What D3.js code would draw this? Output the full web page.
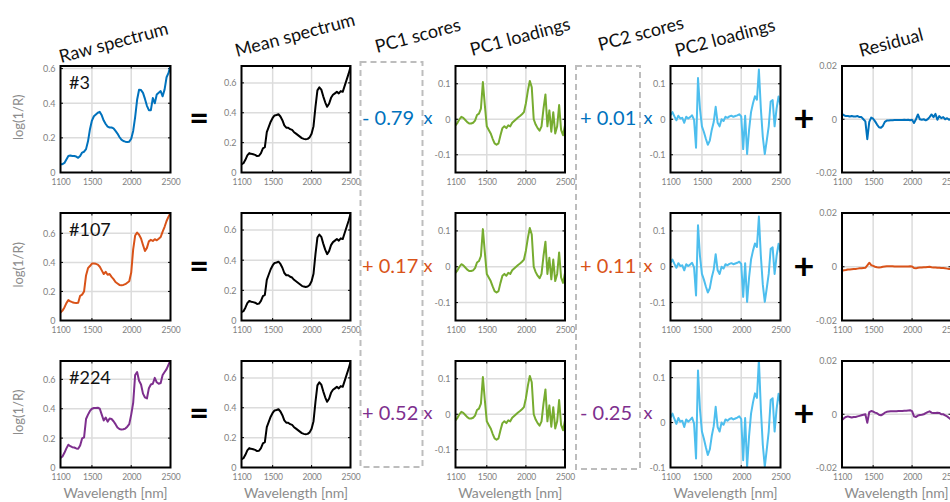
<!DOCTYPE html>
<html><head><meta charset="utf-8">
<script src="https://cdn.jsdelivr.net/npm/d3@7"></script>
<style>
html,body{margin:0;padding:0;background:#fff;overflow:hidden}
svg{display:block}
text{font-family:Lato,"Open Sans",sans-serif}
</style></head>
<body><svg id="c" width="950" height="502"></svg>
<script>
// ---------- data ----------
const wl = [1100,1125,1150,1175,1200,1225,1250,1275,1300,1325,1350,1375,1400,1425,1450,1475,1500,1525,1550,1575,1600,1625,1650,1675,1700,1725,1750,1775,1800,1825,1850,1875,1900,1925,1950,1975,2000,2025,2050,2075,2100,2125,2150,2175,2200,2225,2250,2275,2300,2325,2350,2375,2400,2425,2450,2475,2500];

const raw3 = [0.048,0.048,0.055,0.075,0.095,0.098,0.095,0.095,0.092,0.085,0.095,0.115,0.12,0.135,0.18,0.25,0.30,0.325,0.335,0.345,0.35,0.33,0.30,0.28,0.265,0.26,0.26,0.255,0.24,0.225,0.205,0.19,0.182,0.178,0.176,0.178,0.195,0.24,0.32,0.42,0.478,0.476,0.46,0.425,0.385,0.36,0.36,0.43,0.40,0.45,0.46,0.47,0.44,0.48,0.55,0.575,0.62];
const raw107 = [0.055,0.068,0.09,0.12,0.14,0.132,0.126,0.122,0.12,0.122,0.17,0.178,0.2,0.31,0.36,0.375,0.392,0.392,0.39,0.385,0.37,0.345,0.32,0.335,0.315,0.32,0.30,0.285,0.265,0.255,0.245,0.243,0.245,0.25,0.26,0.27,0.33,0.49,0.585,0.605,0.59,0.565,0.52,0.478,0.50,0.545,0.555,0.548,0.56,0.552,0.563,0.575,0.612,0.645,0.685,0.715,0.74];
const raw224 = [0.065,0.075,0.10,0.13,0.155,0.145,0.138,0.136,0.13,0.128,0.15,0.198,0.205,0.33,0.36,0.385,0.40,0.405,0.405,0.407,0.40,0.36,0.32,0.34,0.312,0.333,0.33,0.315,0.295,0.272,0.262,0.258,0.26,0.265,0.278,0.295,0.36,0.44,0.63,0.65,0.59,0.565,0.503,0.477,0.47,0.54,0.565,0.57,0.61,0.58,0.57,0.575,0.63,0.65,0.67,0.70,0.73];

const meanSpectrum = [0.055,0.062,0.085,0.115,0.13,0.125,0.122,0.118,0.11,0.112,0.13,0.162,0.17,0.27,0.305,0.34,0.365,0.382,0.385,0.39,0.375,0.35,0.315,0.30,0.30,0.29,0.285,0.27,0.26,0.25,0.24,0.23,0.225,0.222,0.225,0.235,0.26,0.31,0.44,0.55,0.57,0.555,0.51,0.47,0.44,0.46,0.50,0.52,0.53,0.54,0.53,0.545,0.54,0.58,0.62,0.66,0.707];

const pc1Loadings = [-0.017,-0.01,0.0,0.007,0.004,-0.002,-0.008,-0.012,-0.012,-0.01,-0.004,0.012,0.016,0.03,0.105,0.04,-0.02,-0.03,-0.04,-0.055,-0.068,-0.072,-0.068,-0.045,-0.025,-0.02,-0.025,-0.017,-0.02,-0.01,-0.005,0.0,0.005,0.009,0.014,0.02,0.045,0.08,0.108,0.09,0.0,-0.015,-0.025,-0.032,-0.02,0.03,0.07,-0.02,0.025,-0.035,0.02,-0.04,-0.02,0.04,-0.03,-0.045,-0.017];
const pc2Loadings = [0.011,0.02,0.008,-0.003,0.01,0.002,0.004,-0.01,0.007,0.002,0.006,0.011,-0.002,-0.08,0.116,0.03,-0.02,-0.036,-0.055,-0.072,-0.06,-0.03,-0.008,0.035,-0.01,-0.02,0.0,-0.005,0.007,0.004,0.008,0.01,0.007,0.009,0.011,0.014,0.008,-0.084,0.01,-0.098,-0.03,0.02,0.045,0.065,0.055,0.14,0.03,-0.05,-0.098,-0.06,-0.02,0.05,0.054,-0.02,0.03,0.064,0.04];

const res3 = [0.002,0.0015,0.0012,0.0012,0.001,0.0012,0.001,0.001,0.0012,0.0008,0.0008,0.0,-0.0008,-0.0075,-0.001,0.0006,0.0002,-0.0008,-0.002,-0.003,-0.0032,-0.0025,-0.001,-0.0005,-0.0005,-0.0004,-0.0004,-0.0003,-0.0003,-0.0003,-0.0003,-0.0003,-0.0002,-0.0003,-0.0002,-0.0004,-0.0002,-0.0014,0.0,0.0018,0.0,-0.0002,0.0,-0.0004,0.0,0.0008,0.0018,0.0008,0.002,-0.0002,0.0012,0.0004,0.0008,0.0,0.0004,-0.0002,0.0];
const res107 = [-0.0015,-0.0013,-0.0012,-0.001,-0.001,-0.0009,-0.0008,-0.0008,-0.0007,-0.0006,-0.0006,-0.0005,-0.0004,0.0005,0.0015,0.0006,0.0003,0.0,-0.0002,-0.0003,-0.0002,0.0,0.0001,0.0002,0.0002,0.0002,0.0002,0.0001,0.0001,0.0001,0.0001,0.0001,0.0001,0.0001,0.0001,0.0002,0.0001,-0.0005,-0.0006,-0.0004,-0.0003,-0.0003,-0.0002,-0.0002,-0.0001,0.0,-0.0002,-0.0003,-0.0003,-0.0004,-0.0004,-0.0005,-0.0005,-0.0006,-0.0007,-0.0008,-0.0009];
const res224 = [-0.0022,-0.0015,-0.001,-0.0008,-0.001,-0.0012,-0.001,-0.001,-0.0008,-0.0006,-0.0004,-0.0002,0.0,-0.0032,0.0008,0.0012,0.001,0.0006,0.0004,-0.0002,-0.0004,0.0,0.0006,0.0009,0.001,0.0011,0.0011,0.0011,0.0011,0.0012,0.0012,0.0012,0.0013,0.0013,0.0014,0.0015,0.0012,-0.0008,-0.001,-0.0005,-0.0003,-0.0002,0.0,0.0004,0.0008,0.0011,0.0006,0.0005,0.0005,0.0006,0.0005,0.0,0.0,-0.0004,-0.0008,-0.0014,-0.002];

const sampleLabels = ["#3", "#107", "#224"];
const pc1Scores = ["- 0.79", "+ 0.17", "+ 0.52"];
const pc2Scores = ["+ 0.01", "+ 0.11", "- 0.25"];
const titles = ["Raw spectrum", "Mean spectrum", "PC1 scores", "PC1 loadings", "PC2 scores", "PC2 loadings", "Residual"];
const xTicks = [1100, 1500, 2000, 2500];
const specTicks = [0, 0.2, 0.4, 0.6];
const loadTicks = [-0.1, 0, 0.1];
const resTicks = [-0.02, 0, 0.02];

// ---------- layout ----------
const svg = d3.select("#c");
const rowColors = ["#0072BD", "#D95319", "#7E2F8E"];
const rowsY = [[66,172.5],[213,320.5],[361,467.5]];
const colsX = {raw:[60.5,170.5], mean:[241.5,350.5], pc1:[455.5,565], pc2:[670.5,780.5], res:[842,951]};
const rawSeries = [raw3, raw107, raw224];
const resSeries = [res3, res107, res224];
const rawDomains = [[0,0.615],[0,0.74],[0,0.725]];
const pc2Domains = [[-0.15,0.15],[-0.15,0.15],[-0.1,0.137]];
let clipId = 0;

function fmt(v){ return v === 0 ? "0" : String(+v.toFixed(3)); }

function panel(xr, yr, values, yDomain, yTicks, color){
  const x = d3.scaleLinear().domain([1100,2500]).range(xr);
  const y = d3.scaleLinear().domain(yDomain).range([yr[1], yr[0]]);
  const g = svg.append("g");
  g.selectAll(".vg").data(xTicks.filter(t=>t>1100&&t<2500)).join("line")
    .attr("x1",d=>x(d)).attr("x2",d=>x(d)).attr("y1",yr[0]).attr("y2",yr[1])
    .attr("stroke","#dcdcdc").attr("stroke-width",1.5);
  g.selectAll(".hg").data(yTicks.filter(t=>t>yDomain[0]+1e-9&&t<yDomain[1]-1e-9)).join("line")
    .attr("x1",xr[0]).attr("x2",xr[1]).attr("y1",d=>y(d)).attr("y2",d=>y(d))
    .attr("stroke","#dcdcdc").attr("stroke-width",1.5);
  const xa = d3.axisBottom(x).tickValues(xTicks).tickSize(0).tickPadding(6).tickFormat(d3.format("d"));
  const gx = g.append("g").attr("transform",`translate(0,${yr[1]})`).call(xa);
  const ya = d3.axisLeft(y).tickValues(yTicks).tickSize(0).tickPadding(5).tickFormat(fmt);
  const gy = g.append("g").attr("transform",`translate(${xr[0]},0)`).call(ya);
  gx.select(".domain").remove(); gy.select(".domain").remove();
  gx.selectAll("text").attr("fill","#7f7f7f").style("font-size","8.5px").style("font-family","Lato,sans-serif").style("letter-spacing","-0.2px");
  gy.selectAll("text").attr("fill","#7f7f7f").style("font-size","9px").style("font-family","Lato,sans-serif");
  xTicks.forEach(t=>{
    g.append("line").attr("x1",x(t)).attr("x2",x(t)).attr("y1",yr[1]).attr("y2",yr[1]-2.5).attr("stroke","#000").attr("stroke-width",1);
    g.append("line").attr("x1",x(t)).attr("x2",x(t)).attr("y1",yr[0]).attr("y2",yr[0]+2.5).attr("stroke","#000").attr("stroke-width",1);
  });
  yTicks.forEach(t=>{
    g.append("line").attr("x1",xr[0]).attr("x2",xr[0]+2.5).attr("y1",y(t)).attr("y2",y(t)).attr("stroke","#000").attr("stroke-width",1);
    g.append("line").attr("x1",xr[1]).attr("x2",xr[1]-2.5).attr("y1",y(t)).attr("y2",y(t)).attr("stroke","#000").attr("stroke-width",1);
  });
  const id = "clip" + (clipId++);
  svg.append("clipPath").attr("id",id).append("rect")
    .attr("x",xr[0]).attr("y",yr[0]).attr("width",xr[1]-xr[0]).attr("height",yr[1]-yr[0]);
  const line = d3.line().x((d,i)=>x(wl[i])).y(d=>y(d));
  g.append("path").datum(values).attr("d",line).attr("fill","none")
    .attr("stroke",color).attr("stroke-width",2).attr("stroke-linejoin","round")
    .attr("clip-path",`url(#${id})`);
  g.append("rect").attr("x",xr[0]).attr("y",yr[0]).attr("width",xr[1]-xr[0]).attr("height",yr[1]-yr[0])
    .attr("fill","none").attr("stroke","#000").attr("stroke-width",2);
}

rowsY.forEach((yr,r)=>{
  panel(colsX.raw, yr, rawSeries[r], rawDomains[r], specTicks, rowColors[r]);
  panel(colsX.mean, yr, meanSpectrum, [0,0.713], specTicks, "#000");
  panel(colsX.pc1, yr, pc1Loadings, [-0.15,0.15], loadTicks, "#77AC30");
  panel(colsX.pc2, yr, pc2Loadings, pc2Domains[r], loadTicks, "#4DBEEE");
  panel(colsX.res, yr, resSeries[r], [-0.02,0.02], resTicks, rowColors[r]);

  const cy = (yr[0]+yr[1])/2;
  svg.append("text").attr("x",69).attr("y",yr[0]+23).text(sampleLabels[r])
    .attr("fill","#111").style("font-size","18px");
  svg.append("text").attr("transform",`translate(23,${cy-2}) rotate(-90)`).attr("text-anchor","middle")
    .text("log(1/R)").attr("fill","#8c8c8c").style("font-size","13px");
  svg.append("text").attr("x",199).attr("y",cy+11).attr("text-anchor","middle").text("=")
    .attr("fill","#000").style("font-size","34px").style("font-weight","bold");
  svg.append("text").attr("x",804).attr("y",cy+12).attr("text-anchor","middle").text("+")
    .attr("fill","#000").style("font-size","36px").style("font-weight","bold");
  svg.append("text").attr("x",362).attr("y",cy+6).text(pc1Scores[r]).attr("fill",rowColors[r]).style("font-size","20px");
  svg.append("text").attr("x",428).attr("y",cy+5).attr("text-anchor","middle").text("x").attr("fill",rowColors[r]).style("font-size","18px");
  svg.append("text").attr("x",580).attr("y",cy+6).text(pc2Scores[r]).attr("fill",rowColors[r]).style("font-size","20px");
  svg.append("text").attr("x",648).attr("y",cy+5).attr("text-anchor","middle").text("x").attr("fill",rowColors[r]).style("font-size","18px");
});

svg.append("rect").attr("x",360.5).attr("y",62).attr("width",62).attr("height",405)
  .attr("fill","none").attr("stroke","#bdbdbd").attr("stroke-width",2).attr("stroke-dasharray","6,4");
svg.append("rect").attr("x",576).attr("y",66).attr("width",64).attr("height",403)
  .attr("fill","none").attr("stroke","#bdbdbd").attr("stroke-width",2).attr("stroke-dasharray","6,4");

const titlePos = [[61,63],[237,57],[377,53],[472,56],[600,51],[677,57],[861,57]];
titles.forEach((t,i)=>{
  svg.append("text").attr("transform",`translate(${titlePos[i][0]},${titlePos[i][1]}) rotate(-15)`)
    .text(t).attr("fill","#111").style("font-size","18px");
});

Object.values(colsX).forEach(xr=>{
  svg.append("text").attr("x",(xr[0]+xr[1])/2).attr("y",498).attr("text-anchor","middle")
    .text("Wavelength [nm]").attr("fill","#8c8c8c").style("font-size","14px");
});
</script></body></html>
